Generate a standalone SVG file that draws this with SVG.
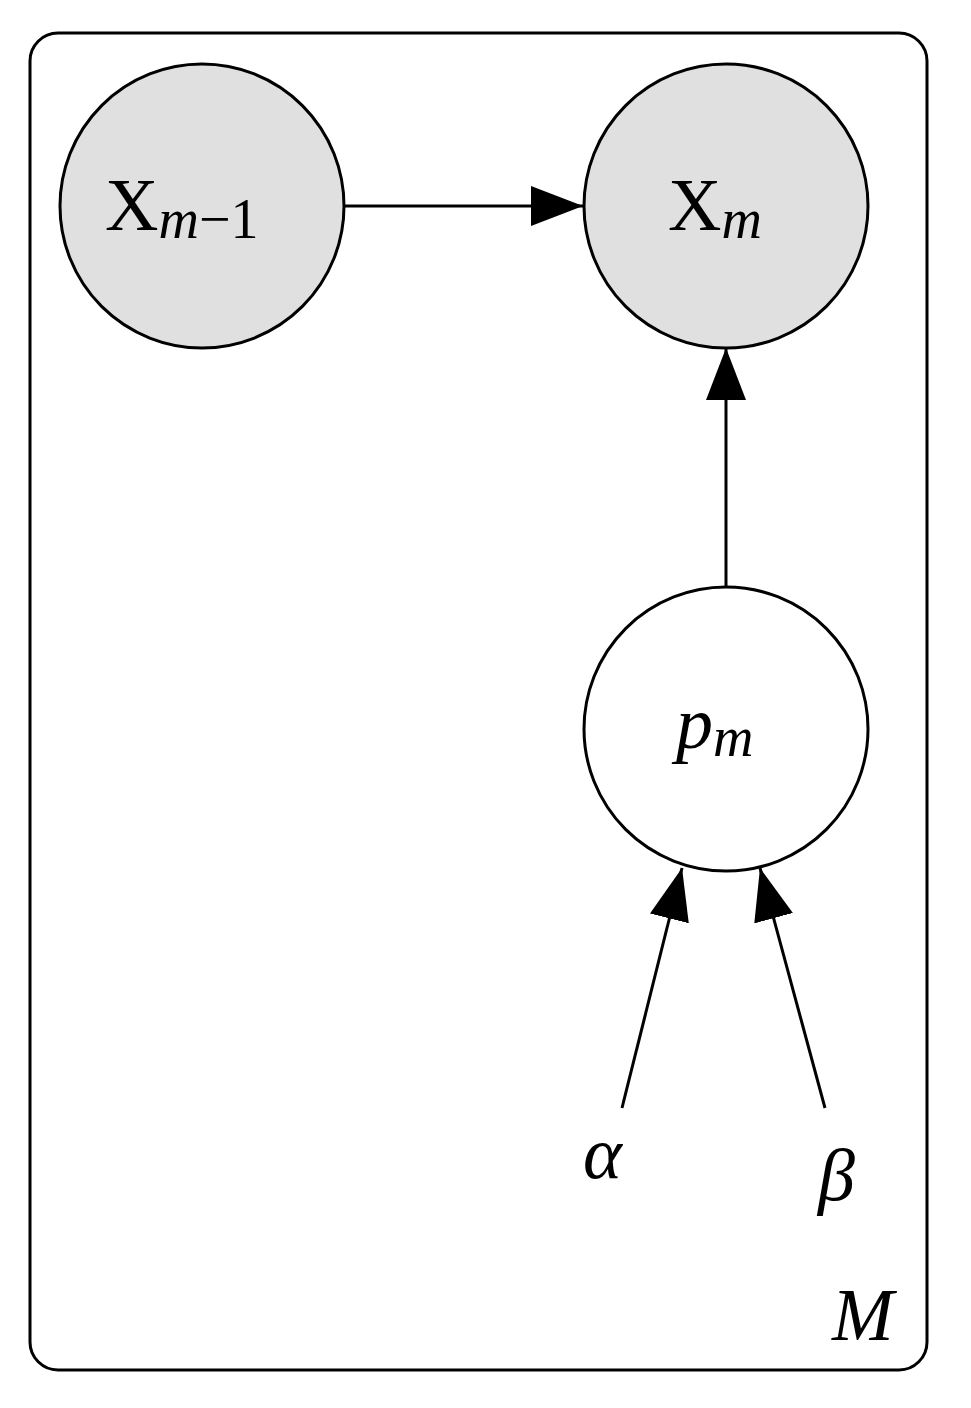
<svg xmlns="http://www.w3.org/2000/svg" width="971" height="1408" viewBox="0 0 971 1408">
<style>
.n{stroke:#000;stroke-width:3}
.g{fill:#e0e0e0}
.w{fill:#fff}
.t{font-family:"Liberation Serif",serif;font-size:74px;fill:#000}
.i{font-style:italic}
.c line{stroke:#000;stroke-width:3}
</style>
<defs>
<marker id="b" viewBox="0 0 52 40" refX="52" refY="20" markerWidth="52" markerHeight="40" orient="auto" markerUnits="userSpaceOnUse"><path d="M0,0 L52,20 L0,40 Z"/></marker></defs>
<rect id="plate" x="30" y="33" width="897" height="1337" rx="28" fill="none" stroke="#000" stroke-width="3"/>
<text class="t i" x="832" y="1340" font-size="66">M</text>
<g id="xm1"><circle class="n g" cx="202" cy="206" r="142"/><text class="t" x="105" y="230">X<tspan class="i" font-size="56" dy="8">m</tspan><tspan font-size="56">−1</tspan></text></g>
<g id="xm"><circle class="n g" cx="726" cy="206" r="142"/><text class="t" x="668" y="230">X<tspan class="i" font-size="56" dy="8">m</tspan></text></g>
<g id="pm"><circle class="n w" cx="726" cy="729" r="142"/><text class="t i" x="676" y="748">p<tspan font-size="56" dy="8">m</tspan></text></g>
<g id="alpha"><text class="t i" x="583" y="1178">α</text></g>
<g id="beta"><text class="t i" x="818" y="1200">β</text></g>
<g class="c">
<line x1="345" y1="206" x2="583" y2="206" marker-end="url(#b)"/>
<line x1="726" y1="587" x2="726" y2="348" marker-end="url(#b)"/>
<line x1="622" y1="1108" x2="682" y2="868" marker-end="url(#b)"/>
<line x1="825" y1="1108" x2="760" y2="868" marker-end="url(#b)"/>
</g>
</svg>
